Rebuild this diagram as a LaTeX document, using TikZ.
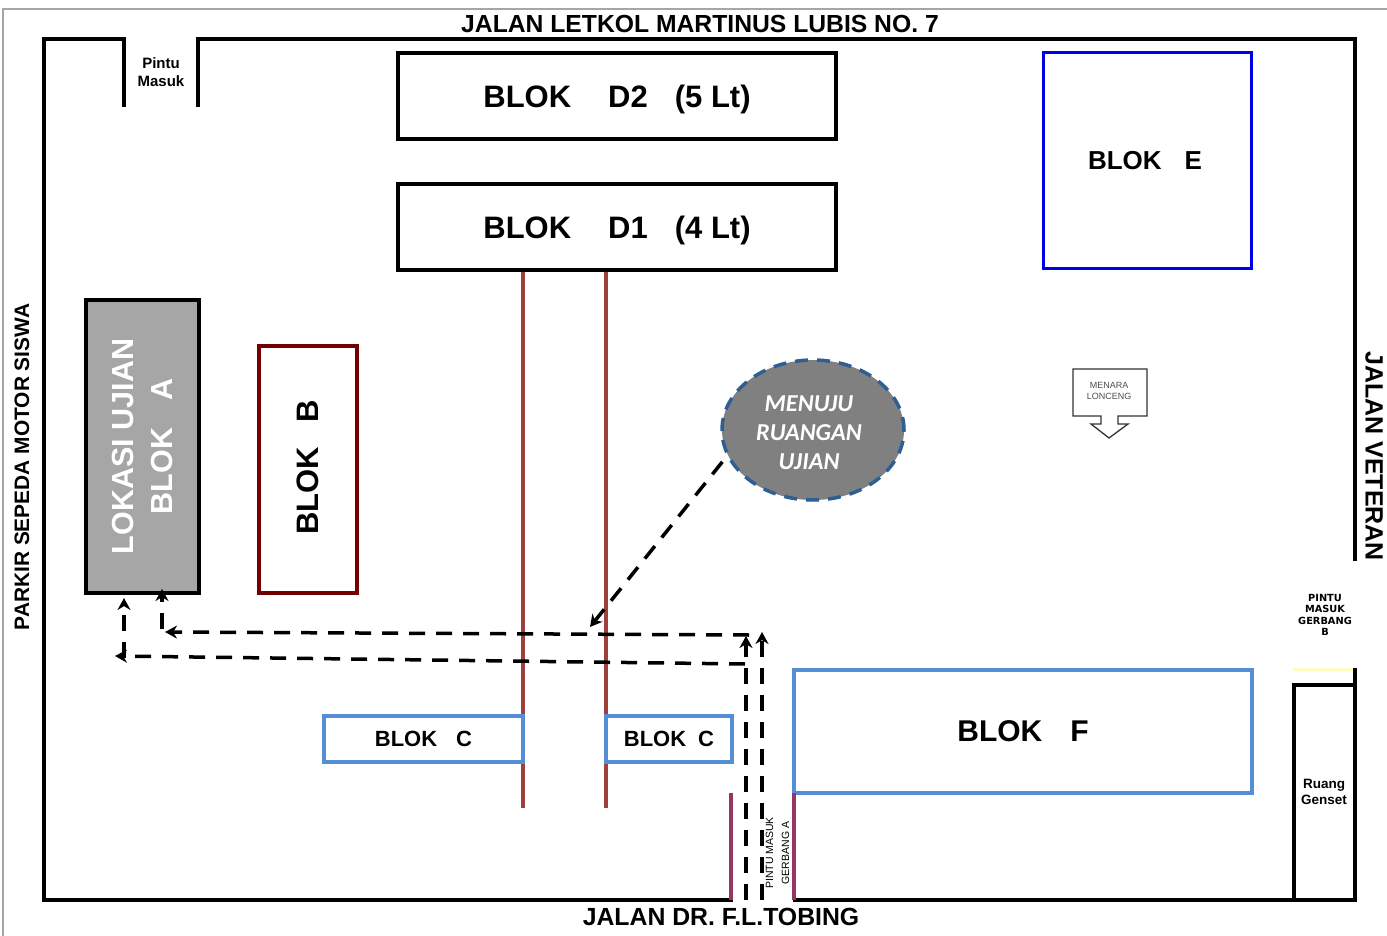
\documentclass[tikz,border=0pt]{standalone}
\usepackage{fontspec}
\setmainfont{Liberation Sans}
\newfontfamily\calfont{Carlito}
\newfontfamily\pixfont{DejaVu Sans}
\usetikzlibrary{arrows.meta,shapes.geometric}
\definecolor{birublok}{RGB}{85,142,213}
\definecolor{merahbata}{RGB}{160,64,60}
\definecolor{ungu}{RGB}{150,54,100}
\definecolor{biruoval}{RGB}{47,94,147}
\newcommand{\uk}[1]{\fontsize{#1}{#1}\selectfont}
\tikzset{
    tembok/.style={line width=3.5pt, black, line join=miter},
    blok/.style={draw, line width=3.5pt, inner sep=0pt, font=\bfseries},
    label/.style={inner sep=0pt, font=\bfseries, align=center},
    jalur/.style={line width=3.5pt, dash pattern=on 16pt off 11pt, -{Stealth[length=12pt,width=13pt]}},
}

\begin{document}
\begin{tikzpicture}[x=1pt,y=-1pt]

    \useasboundingbox (0,0) rectangle (1387,936);

    % BINGKAI
    \draw[gray!70, line width=1.2pt] (3,936) -- (3,9) -- (1387,9);

    % TEMBOK
    \draw[tembok] (124,107) -- (124,39) -- (44,39) -- (44,900) -- (733,900);
    \draw[tembok] (198,107) -- (198,39) -- (1355,39) -- (1355,561);
    \draw[tembok] (793,900) -- (1355,900) -- (1355,668);
    \draw[tembok] (1294,900) -- (1294,685) -- (1355,685);
    \draw[yellow!25, line width=3pt] (1293,669) -- (1353,669);

    % NAMA JALAN
    \node[label] (jalanatas) at (700,24) {\uk{24.7}JALAN LETKOL MARTINUS LUBIS NO. 7};
    \node[label] (jalanbawah) at (721,917) {\uk{24.8}JALAN DR. F.L.TOBING};
    \node[label, rotate=90] (parkir) at (22,467) {\uk{20.9}PARKIR SEPEDA MOTOR SISWA};
    \node[label, rotate=-90] (veteran) at (1374,456) {\uk{25}JALAN VETERAN};
    \node[label] (pintumasuk) at (161,72) {\uk{15}Pintu\\[6pt]\uk{15}Masuk};

    % GARIS MERAH
    \coordinate (garis1a) at (523,270);
    \coordinate (garis1b) at (523,808);
    \coordinate (garis2a) at (606,270);
    \coordinate (garis2b) at (606,808);
    \draw[merahbata, line width=3.5pt] (garis1a) -- (garis1b);
    \draw[merahbata, line width=3.5pt] (garis2a) -- (garis2b);

    % BLOK
    \node[blok, text depth=0pt, minimum width=438pt, minimum height=86pt] (blokd2) at (617,96)
        {\uk{31}BLOK\hspace{37pt}D2\hspace{27pt}(5 Lt)};
    \node[blok, text depth=0pt, minimum width=438pt, minimum height=86pt] (blokd1) at (617,227)
        {\uk{31}BLOK\hspace{37pt}D1\hspace{27pt}(4 Lt)};
    \node[blok, blue!90!black, text=black, line width=3pt, minimum width=208pt, minimum height=215pt] (bloke) at (1147,160.5)
        {\uk{26}BLOK\hspace{23pt}E\hspace{4pt}\null};
    \node[blok, rotate=90, fill=black!35, text=white, align=center, minimum width=293pt, minimum height=113pt] (bloka) at (142.5,446.5)
        {\uk{30.5}LOKASI UJIAN\\[16pt]\uk{30.5}BLOK\hspace{27pt}A};
    \node[blok, rotate=90, red!45!black, text=black, minimum width=247pt, minimum height=98pt] (blokb) at (308,469.5)
        {\uk{31}\null\hspace{4pt}BLOK\hspace{24pt}B};
    \node[blok, birublok, fill=white, text=black, minimum width=199pt, minimum height=46pt] (blokc1) at (423.5,739)
        {\uk{22}BLOK\hspace{19pt}C};
    \node[blok, birublok, fill=white, text=black, minimum width=126pt, minimum height=46pt] (blokc2) at (669,739)
        {\uk{22}BLOK\hspace{12pt}C};
    \node[blok, birublok, text=black, minimum width=458pt, minimum height=123pt] (blokf) at (1023,731.5)
        {\uk{30}BLOK\hspace{28pt}F};

    % GERBANG A
    \coordinate (gerbang1a) at (731,793);
    \coordinate (gerbang1b) at (731,900);
    \coordinate (gerbang2a) at (794,793);
    \coordinate (gerbang2b) at (794,900);
    \draw[ungu, line width=3.5pt] (gerbang1a) -- (gerbang1b);
    \draw[ungu, line width=3.5pt] (gerbang2a) -- (gerbang2b);
    \node[label, rotate=90, font=\normalfont] (gerbanga) at (777.5,853)
        {\uk{10.5}PINTU MASUK\\[4pt]\uk{10.5}GERBANG A};

    % KETERANGAN KANAN
    \node[label] (gerbangb) at (1325,615) {\pixfont\bfseries\uk{9.8}PINTU\\[-0.7pt]\pixfont\bfseries\uk{9.8}MASUK\\[-0.7pt]\pixfont\bfseries\uk{9.8}GERBANG\\[-0.7pt]\pixfont\bfseries\uk{9.8}B};
    \node[label] (genset) at (1324,792) {\uk{13.5}Ruang\\[2.5pt]\uk{13.5}Genset};

    % MENARA LONCENG
    \draw[black!80, line width=1.3pt] (1073,369) -- (1147,369) -- (1147,416) -- (1118,416) -- (1118,424) -- (1128,424)
        -- (1109,438) -- (1091,424) -- (1101,424) -- (1101,416) -- (1073,416) -- cycle;
    \node[label, font=\normalfont, text=black!70] (menara) at (1109,391) {\uk{9}MENARA\\[-1.5pt]\uk{9}LONCENG};

    % MENUJU RUANGAN
    \node[draw=biruoval, fill=black!50, ellipse, line width=3.5pt, dash pattern=on 13pt off 9pt, inner sep=0pt,
        minimum width=182pt, minimum height=140pt] (menuju) at (813,430) {};
    \node[label, text=white, font=\calfont\bfseries\itshape] (menujutks) at (809,433)
        {\uk{24.3}MENUJU\\[12pt]\uk{24.3}RUANGAN\\[12pt]\uk{24.3}UJIAN};

    % JALUR
    \coordinate (tujuan) at (590,627);
    \coordinate (masuk1) at (762,900);
    \coordinate (masuk1b) at (762,632);
    \coordinate (masuk2) at (746,900);
    \coordinate (masuk2b) at (746,636);
    \coordinate (atas1) at (749,635);
    \coordinate (atas2) at (165,632);
    \coordinate (naik1) at (162,629);
    \coordinate (naik1b) at (162,589);
    \coordinate (bawah1) at (745,664);
    \coordinate (bawah2) at (115,656);
    \coordinate (naik2) at (124,658);
    \coordinate (naik2b) at (124,598);
    \draw[jalur, shorten <=7pt] (menuju.197) -- (tujuan);
    \draw[jalur] (masuk1) -- (masuk1b);
    \draw[jalur] (masuk2) -- (masuk2b);
    \draw[jalur] (atas1) -- (atas2);
    \draw[jalur] (naik1) -- (naik1b);
    \draw[jalur] (bawah1) -- (bawah2);
    \draw[jalur] (naik2) -- (naik2b);

\end{tikzpicture}
\end{document}
